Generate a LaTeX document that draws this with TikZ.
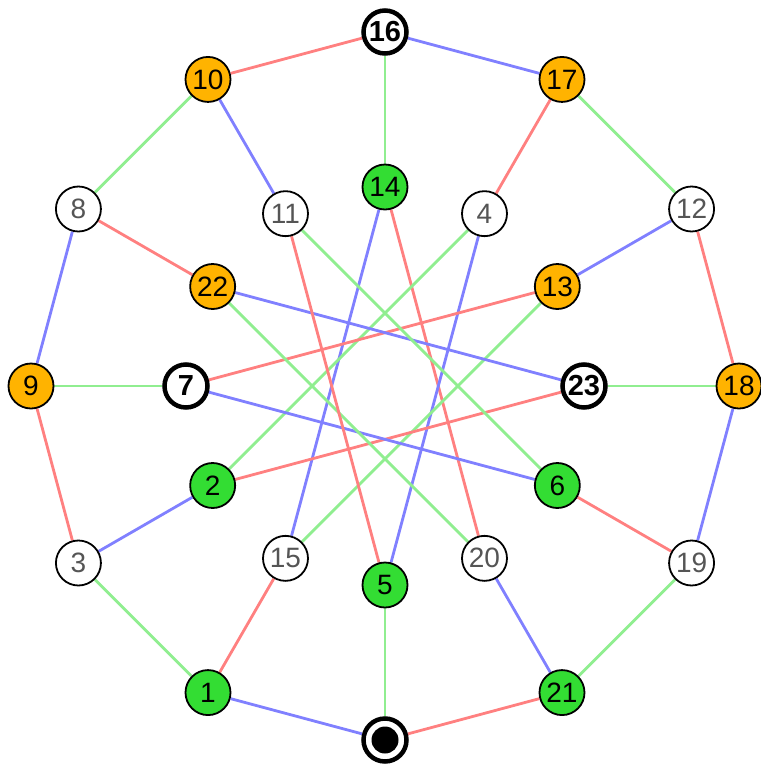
\documentclass[tikz,border=0pt]{standalone}
\usepackage{fontspec}
\setmainfont{Liberation Sans}
\definecolor{nodeorange}{HTML}{FFB300}
\definecolor{nodegreen}{HTML}{33DD33}
\definecolor{ered}{HTML}{FF8080}
\definecolor{eblue}{HTML}{8080FF}
\definecolor{egreen}{HTML}{90EE90}
\definecolor{txtgray}{HTML}{555555}
\pgfdeclarelayer{bg}
\pgfsetlayers{bg,main}
\begin{document}
\begin{tikzpicture}[x=1pt,y=1pt,
  base/.style={circle,draw=black,line width=1.8pt,minimum size=45pt,inner sep=0pt,font=\fontsize{28}{28}\selectfont},
  wnode/.style={base,fill=white,text=txtgray},
  onode/.style={base,fill=nodeorange},
  gnode/.style={base,fill=nodegreen},
  tnode/.style={base,fill=white,line width=4.5pt,minimum size=43pt,font=\fontsize{29}{29}\selectfont\bfseries},
  re/.style={draw=ered,line width=2.8pt},
  be/.style={draw=eblue,line width=2.8pt},
  ge/.style={draw=egreen,line width=2.8pt}]
\useasboundingbox (0,0) rectangle (761,-764);
\coordinate (c) at (385,-386);
\def\ro{354}
\def\ri{199}
% outer ring
\node[tnode] (n16) at ([shift={(90:\ro)}]c) {16};
\node[onode] (n17) at ([shift={(60:\ro)}]c) {17};
\node[wnode] (n12) at ([shift={(30:\ro)}]c) {12};
\node[onode] (n18) at ([shift={(0:\ro)}]c) {18};
\node[wnode] (n19) at ([shift={(-30:\ro)}]c) {19};
\node[gnode] (n21) at ([shift={(-60:\ro)}]c) {21};
\node[tnode] (n0) at ([shift={(-90:\ro)}]c) {};
\node[circle,fill=black,minimum size=27pt,inner sep=0pt] (dot) at (n0.center) {};
\node[gnode] (n1) at ([shift={(-120:\ro)}]c) {1};
\node[wnode] (n3) at ([shift={(-150:\ro)}]c) {3};
\node[onode] (n9) at ([shift={(180:\ro)}]c) {9};
\node[wnode] (n8) at ([shift={(150:\ro)}]c) {8};
\node[onode] (n10) at ([shift={(120:\ro)}]c) {10};
% inner ring
\node[gnode] (n14) at ([shift={(90:\ri)}]c) {14};
\node[wnode] (n4) at ([shift={(60:\ri)}]c) {4};
\node[onode] (n13) at ([shift={(30:\ri)}]c) {13};
\node[tnode] (n23) at ([shift={(0:\ri)}]c) {23};
\node[gnode] (n6) at ([shift={(-30:\ri)}]c) {6};
\node[wnode] (n20) at ([shift={(-60:\ri)}]c) {20};
\node[gnode] (n5) at ([shift={(-90:\ri)}]c) {5};
\node[wnode] (n15) at ([shift={(-120:\ri)}]c) {15};
\node[gnode] (n2) at ([shift={(-150:\ri)}]c) {2};
\node[tnode] (n7) at ([shift={(180:\ri)}]c) {7};
\node[onode] (n22) at ([shift={(150:\ri)}]c) {22};
\node[wnode] (n11) at ([shift={(120:\ri)}]c) {11};
\begin{pgfonlayer}{bg}
% outer ring
\path[be] (n16) -- (n17);
\path[ge] (n17) -- (n12);
\path[re] (n12) -- (n18);
\path[be] (n18) -- (n19);
\path[ge] (n19) -- (n21);
\path[re] (n21) -- (n0);
\path[be] (n0) -- (n1);
\path[ge] (n1) -- (n3);
\path[re] (n3) -- (n9);
\path[be] (n9) -- (n8);
\path[ge] (n8) -- (n10);
\path[re] (n10) -- (n16);
% spokes
\path[ge] (n16) -- (n14);
\path[re] (n17) -- (n4);
\path[be] (n12) -- (n13);
\path[ge] (n18) -- (n23);
\path[re] (n19) -- (n6);
\path[be] (n21) -- (n20);
\path[ge] (n0) -- (n5);
\path[re] (n1) -- (n15);
\path[be] (n3) -- (n2);
\path[ge] (n9) -- (n7);
\path[re] (n8) -- (n22);
\path[be] (n10) -- (n11);
% inner
\path[be] (n14) -- (n15);
\path[re] (n14) -- (n20);
\path[ge] (n4) -- (n2);
\path[be] (n4) -- (n5);
\path[re] (n13) -- (n7);
\path[ge] (n13) -- (n15);
\path[be] (n23) -- (n22);
\path[re] (n23) -- (n2);
\path[ge] (n6) -- (n11);
\path[be] (n6) -- (n7);
\path[ge] (n20) -- (n22);
\path[re] (n5) -- (n11);
\end{pgfonlayer}
\end{tikzpicture}
\end{document}
